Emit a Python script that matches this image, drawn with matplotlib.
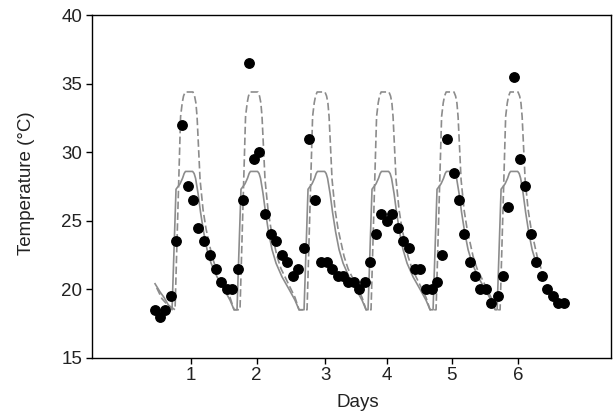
import numpy as np
import matplotlib
matplotlib.use("Agg")
import matplotlib.pyplot as plt

plt.rcParams['font.family'] = ['Liberation Sans', 'DejaVu Sans']

# ---------------- data ----------------
# observed temperatures (dots): time in days, temperature in °C
obs_days = [0.433, 0.510, 0.586, 0.678, 0.760, 0.843, 0.932, 1.011, 1.097, 1.190,
            1.277, 1.365, 1.450, 1.533, 1.619, 1.702, 1.779, 1.876, 1.952, 2.034,
            2.121, 2.209, 2.290, 2.378, 2.464, 2.546, 2.632, 2.720, 2.797, 2.884,
            2.984, 3.067, 3.154, 3.237, 3.323, 3.400, 3.487, 3.569, 3.650, 3.736,
            3.820, 3.902, 3.986, 4.067, 4.167, 4.244, 4.332, 4.418, 4.505, 4.593,
            4.680, 4.757, 4.838, 4.919, 5.015, 5.091, 5.173, 5.268, 5.348, 5.421,
            5.513, 5.590, 5.702, 5.774, 5.856, 5.943, 6.028, 6.107, 6.200, 6.276,
            6.368, 6.454, 6.537, 6.623, 6.711]
obs_temp = [18.5, 18.0, 18.5, 19.5, 23.5, 32.0, 27.5, 26.5, 24.5, 23.5,
            22.5, 21.5, 20.5, 20.0, 20.0, 21.5, 26.5, 36.5, 29.5, 30.0,
            25.5, 24.0, 23.5, 22.5, 22.0, 21.0, 21.5, 23.0, 31.0, 26.5,
            22.0, 22.0, 21.5, 21.0, 21.0, 20.5, 20.5, 20.0, 20.5, 22.0,
            24.0, 25.5, 25.0, 25.5, 24.5, 23.5, 23.0, 21.5, 21.5, 20.0,
            20.0, 20.5, 22.5, 31.0, 28.5, 26.5, 24.0, 22.0, 21.0, 20.0,
            20.0, 19.0, 19.5, 21.0, 26.0, 35.5, 29.5, 27.5, 24.0, 22.0,
            21.0, 20.0, 19.5, 19.0, 19.0]

# daily peak times of the two model curves (days)
peak_days = [0.955, 1.952, 2.981, 3.963, 4.961, 5.944]

# daily profile of model 1 (solid): offset from peak (days), temperature
solid_off = [-0.261, -0.200, -0.138, -0.100, -0.075, -0.055, 0.055, 0.078, 0.100,
             0.138, 0.177, 0.223, 0.276, 0.338, 0.430, 0.537, 0.629, 0.691]
solid_tmp = [18.5, 27.3, 27.7, 28.1, 28.45, 28.6, 28.6, 28.45, 28.1,
             27.0, 25.6, 24.2, 22.9, 21.9, 20.9, 20.0, 19.2, 18.5]
# daily profile of model 2 (dashed)
dash_off = [-0.215, -0.130, -0.105, -0.085, -0.060, 0.060, 0.085, 0.105, 0.123,
            0.169, 0.215, 0.261, 0.353, 0.414, 0.476, 0.629, 0.691]
dash_tmp = [18.5, 32.6, 33.6, 34.1, 34.4, 34.4, 34.1, 33.6, 32.6,
            28.0, 25.8, 24.4, 22.4, 21.5, 20.9, 19.4, 18.5]

# start of the simulated series (before first day's rise)
solid_start_x = [0.433, 0.510, 0.571, 0.632]
solid_start_y = [20.4, 19.8, 19.4, 18.9]
dash_start_x = [0.459, 0.540, 0.617]
dash_start_y = [20.1, 19.3, 18.9]
solid_end = 0.36   # last offset kept on the final day
dash_end = 0.42

tick_pos = [0.985, 1.994, 3.042, 3.989, 4.987, 6.0]
tick_lab = ['1', '2', '3', '4', '5', '6']


def build(start_x, start_y, offs, tmps, last_off):
    xs, ys = list(start_x), list(start_y)
    for i, p in enumerate(peak_days):
        for o, t in zip(offs, tmps):
            if i == len(peak_days) - 1 and o > last_off:
                break
            xs.append(p + o)
            ys.append(t)
    return xs, ys


sx, sy = build(solid_start_x, solid_start_y, solid_off, solid_tmp, solid_end)
dx, dy = build(dash_start_x, dash_start_y, dash_off, dash_tmp, dash_end)

# ---------------- figure ----------------
fig = plt.figure(figsize=(6.16, 4.19), dpi=100)
ax = fig.add_axes([0.1494, 0.1463, 0.8426, 0.8172])

line_col = '#8c8c8c'
ax.plot(sx, sy, color=line_col, lw=1.2, solid_joinstyle='round')
ax.plot(dx, dy, color=line_col, lw=1.2, dashes=(4.5, 2))
ax.plot(obs_days, obs_temp, 'o', color='black', markersize=6.8, linestyle='none')

ax.set_xlim(-0.534, 7.432)
ax.set_ylim(15, 40)
ax.set_yticks([15, 20, 25, 30, 35, 40])
ax.set_xticks(tick_pos)
ax.set_xticklabels(tick_lab)

txt_col = '#222222'
ax.tick_params(direction='out', length=4, width=1, colors='black',
               labelsize=13.5, labelcolor=txt_col, pad=3)
for s in ax.spines.values():
    s.set_linewidth(1.0)
    s.set_color('black')

ax.set_xlabel('Days', fontsize=13.5, color=txt_col)
ax.set_ylabel('Temperature (°C)', fontsize=13.5, color=txt_col)
ax.xaxis.set_label_coords(0.5125, -0.105)
ax.yaxis.set_label_coords(-0.11, 0.51)

fig.savefig('out.png', dpi=100)
